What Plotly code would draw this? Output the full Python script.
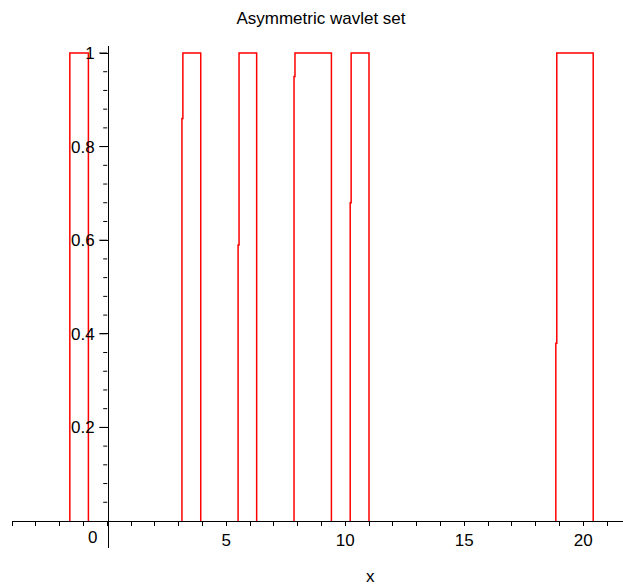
import plotly.graph_objects as go

# Pulse edges of the indicator function (x where it switches on / off)
rise_x = [-1.57, 3.14, 5.50, 7.85, 10.21, 18.85]
fall_x = [-0.79, 3.93, 6.28, 9.42, 11.00, 20.42]
# height of the sampled point on each rising edge (None = clean jump)
rise_kink = [None, 0.86, 0.59, 0.95, 0.68, 0.38]
kink_dx = 0.04

x_ticks = list(range(-4, 22))
x_labels = {5: "5", 10: "10", 15: "15", 20: "20"}
y_major = [0.2, 0.4, 0.6, 0.8, 1.0]
y_major_text = ["0.2", "0.4", "0.6", "0.8", "1"]
y_minor = [round(0.04 * i, 2) for i in range(1, 26) if i % 5]

# build the step curve, one closed-top pulse per interval
xs, ys = [], []
for r, f, k in zip(rise_x, fall_x, rise_kink):
    if k is None:
        xs += [r, r, f, f, None]
        ys += [0, 1, 1, 0, None]
    else:
        xs += [r, r, r + kink_dx, r + kink_dx, f, f, None]
        ys += [0, k, k, 1, 1, 0, None]

W, H = 623, 588
px_per_x = 23.8
px_per_y = 468.0
left_px, axis_x_px = 12, 108
top_px, axis_y_px, bottom_px = 46, 521, 548

x_min = -4.0
x_max = x_min + (W - left_px) / px_per_x
y_max = (axis_y_px - top_px) / px_per_y
y_min = -(bottom_px - axis_y_px) / px_per_y

FONT = "Liberation Sans, Arial, sans-serif"

# left-pointing tick marks on the y-axis (minor 4 px, major 8 px)
tick_x, tick_y = [], []
for v in y_minor:
    tick_x += [-4 / px_per_x, 0, None]
    tick_y += [v, v, None]
for v in y_major:
    tick_x += [-8 / px_per_x, 0, None]
    tick_y += [v, v, None]

fig = go.Figure()
fig.add_trace(go.Scatter(
    x=tick_x, y=tick_y, mode="lines",
    line=dict(color="#000", width=1),
    hoverinfo="skip", showlegend=False, cliponaxis=False,
))
fig.add_trace(go.Scatter(
    x=xs, y=ys, mode="lines",
    line=dict(color="#ff0000", width=1.5),
    hoverinfo="skip", showlegend=False, cliponaxis=False,
))

fig.update_layout(
    width=W, height=H,
    margin=dict(l=0, r=0, t=top_px, b=H - bottom_px),
    paper_bgcolor="white", plot_bgcolor="white",
    font=dict(family=FONT, size=17, color="#000"),
    title=dict(text="Asymmetric wavlet set", x=321 / W, xanchor="center",
               y=1 - 18 / H, yanchor="middle", yref="container",
               font=dict(family=FONT, size=17, color="#000")),
    xaxis=dict(
        domain=[left_px / W, 1], range=[x_min, x_max],
        anchor="free", position=-y_min / (y_max - y_min),
        showline=True, linecolor="#000", linewidth=1,
        showgrid=False, zeroline=False,
        tickmode="array", tickvals=x_ticks,
        ticktext=[x_labels.get(v, "") for v in x_ticks],
        ticks="outside", ticklen=4, tickcolor="#000", tickwidth=1,
        tickfont=dict(family=FONT, size=17, color="#000"),
    ),
    yaxis=dict(
        domain=[0, 1], range=[y_min, y_max],
        anchor="free", position=axis_x_px / W,
        showline=True, linecolor="#000", linewidth=1,
        showgrid=False, zeroline=False,
        tickmode="array", tickvals=y_major, ticktext=y_major_text,
        ticks="outside", ticklen=8, tickcolor="#000", tickwidth=1,
        ticklabelstandoff=2,
        tickfont=dict(family=FONT, size=17, color="#000"),
    ),
    annotations=[
        dict(text="0", x=0, y=0, xref="x", yref="y", xshift=-15,
             yanchor="top", yshift=-5, showarrow=False,
             font=dict(family=FONT, size=17, color="#000")),
        dict(text="x", x=370 / W, y=-(576 - bottom_px) / (bottom_px - top_px),
             xref="paper", yref="paper", yanchor="middle", showarrow=False,
             font=dict(family=FONT, size=17, color="#000")),
    ],
)

fig.write_html("out.html")
